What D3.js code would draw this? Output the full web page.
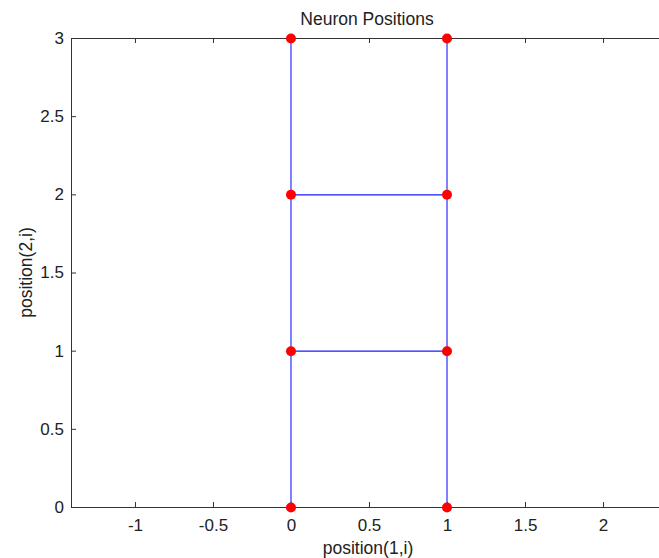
<!DOCTYPE html>
<html>
<head>
<meta charset="utf-8">
<script src="https://cdn.jsdelivr.net/npm/d3@7"></script>
<style>
  body { margin: 0; background: #fff; overflow: hidden; }
  text { font-family: "Liberation Sans", Arial, sans-serif; fill: #222; }
</style>
</head>
<body>
<div id="chart"></div>
<script>
// neuron positions (x = position(1,i), y = position(2,i))
var posX = [0, 1, 0, 1, 0, 1, 0, 1];
var posY = [0, 0, 1, 1, 2, 2, 3, 3];
// neighbour links, as index pairs
var links = [[0, 2], [2, 4], [4, 6], [1, 3], [3, 5], [5, 7], [0, 1], [2, 3], [4, 5], [6, 7]];
var xTicks = [-1, -0.5, 0, 0.5, 1, 1.5, 2];
var yTicks = [0, 0.5, 1, 1.5, 2, 2.5, 3];

var width = 659, height = 558;
var margin = {top: 38, right: -3, bottom: 51, left: 71};

var svg = d3.select("#chart").append("svg")
    .attr("width", width).attr("height", height);

var x = d3.scaleLinear().domain([-1.41, 2.378]).range([margin.left, width - margin.right]);
var y = d3.scaleLinear().domain([0, 3]).range([height - margin.bottom, margin.top]);

var tickFmt = function (d) { return String(d); };

//Links (half pixel shift down so the rows sit under the axis lines)
var linkG = svg.append("g").attr("transform", "translate(0,0.5)");
linkG.selectAll(".link")
    .data(links)
    .enter().append("line")
    .attr("class", "link")
    .attr("x1", function (d) { return x(posX[d[0]]); })
    .attr("y1", function (d) { return y(posY[d[0]]); })
    .attr("x2", function (d) { return x(posX[d[1]]); })
    .attr("y2", function (d) { return y(posY[d[1]]); })
    .attr("stroke", "#1a1aff")
    .attr("stroke-width", 1.1);

//Axes (box style, ticks pointing inward)
var xAxis = svg.append("g")
    .attr("transform", "translate(0," + y(0) + ")")
    .call(d3.axisBottom(x).tickValues(xTicks).tickFormat(tickFmt).tickSizeInner(-5).tickSizeOuter(0).tickPadding(12));
var xTop = svg.append("g")
    .attr("transform", "translate(0," + y(3) + ")")
    .call(d3.axisTop(x).tickValues(xTicks).tickFormat("").tickSizeInner(-5).tickSizeOuter(0));
var yAxis = svg.append("g")
    .attr("transform", "translate(" + x.range()[0] + ",0)")
    .call(d3.axisLeft(y).tickValues(yTicks).tickFormat(tickFmt).tickSizeInner(-5).tickSizeOuter(0).tickPadding(7));

[xAxis, xTop, yAxis].forEach(function (g) {
  g.select(".domain").attr("stroke", "#333").attr("stroke-width", 1);
  g.selectAll(".tick line").attr("stroke", "#333");
  g.selectAll(".tick text").style("font-size", "17px").style("fill", "#222")
      .style("font-family", "Liberation Sans, Arial, sans-serif");
});

//Nodes
var dotG = svg.append("g").attr("transform", "translate(0,0.5)");
dotG.selectAll(".dot")
    .data(posX)
    .enter().append("circle")
    .attr("class", "dot")
    .attr("cx", function (d) { return x(d); })
    .attr("cy", function (d, i) { return y(posY[i]); })
    .attr("r", 5)
    .attr("fill", "#ff0000");

//Labels
svg.append("text")
    .attr("x", 367).attr("y", 25)
    .attr("text-anchor", "middle")
    .style("font-size", "17.5px")
    .text("Neuron Positions");

svg.append("text")
    .attr("x", 368).attr("y", 554)
    .attr("text-anchor", "middle")
    .style("font-size", "17.5px")
    .text("position(1,i)");

svg.append("text")
    .attr("transform", "translate(32," + ((y(0) + y(3)) / 2) + ") rotate(-90)")
    .attr("text-anchor", "middle")
    .style("font-size", "17.5px")
    .text("position(2,i)");
</script>
</body>
</html>
